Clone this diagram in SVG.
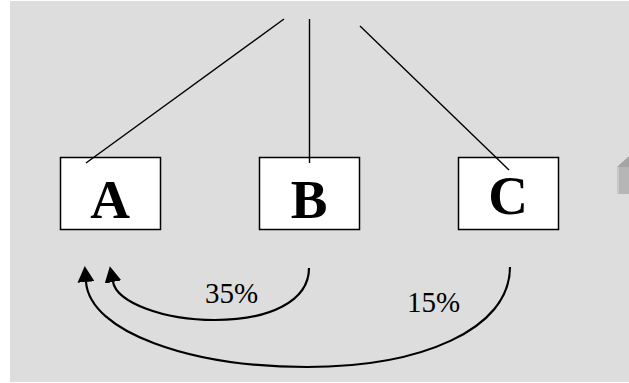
<svg xmlns="http://www.w3.org/2000/svg" width="629" height="383" viewBox="0 0 629 383">
<style>
.box{fill:#ffffff;stroke:#000000;stroke-width:1.5}
.lbl{font-family:"Liberation Serif","Times New Roman",serif;font-weight:bold;font-size:55px;fill:#000;text-anchor:middle}
.pct{font-family:"Liberation Serif","Times New Roman",serif;font-size:29px;fill:#000}
.ln{stroke:#000;stroke-width:1.4;fill:none}
.arc{stroke:#000;stroke-width:2.2;fill:none}
</style>
<defs>
<marker id="ah" markerUnits="userSpaceOnUse" markerWidth="16" markerHeight="17" refX="0" refY="8.5" orient="auto" viewBox="0 0 16 17">
<path d="M0,0 L16,8.5 L0,17 Z" fill="#000"/>
</marker>
</defs>
<rect x="10" y="1" width="619" height="381" fill="#dddddd"/>
<g id="deco">
<polygon points="617,167 628,157 629,157 629,167" fill="#a4a4a4"/>
<rect x="617" y="167" width="12" height="27" fill="#b6b6b6"/>
<rect x="617" y="167" width="2" height="27" fill="#c8c8c8"/>
</g>
<g id="A">
<rect class="box" x="60.5" y="157.5" width="100" height="72"/>
<text class="lbl" x="110" y="218">A</text>
</g>
<g id="B">
<rect class="box" x="259.5" y="157.5" width="100" height="72"/>
<text class="lbl" x="309" y="218">B</text>
</g>
<g id="C">
<rect class="box" x="458.5" y="157.5" width="100" height="72"/>
<text class="lbl" x="508" y="214">C</text>
</g>
<g id="connectors">
<line class="ln" x1="284" y1="19" x2="86" y2="163"/>
<line class="ln" x1="309.5" y1="19" x2="309.5" y2="163"/>
<line class="ln" x1="360" y1="26" x2="509" y2="170"/>
<path class="arc" d="M309,268 C309,302 268,320 215,320 C162,320 117,302 113,282" marker-end="url(#ah)"/>
<path class="arc" d="M510,267 C510,330 420,367 307,367 C190,367 90,332 86,282" marker-end="url(#ah)"/>
</g>
<text class="pct" x="205" y="303">35%</text>
<text class="pct" x="407" y="312">15%</text>
</svg>
